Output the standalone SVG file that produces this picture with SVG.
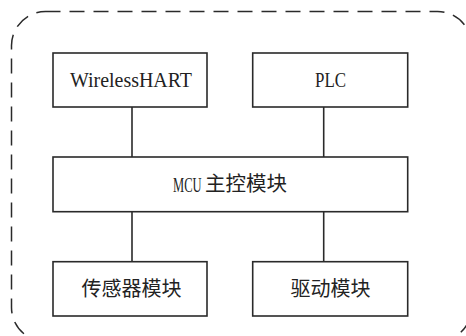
<svg xmlns="http://www.w3.org/2000/svg" width="466" height="336" viewBox="0 0 466 336">
<style>
.box{fill:#fff;stroke:#2a2a2a;stroke-width:1.6}
.ln{stroke:#2a2a2a;stroke-width:1.6;fill:none}
.frame{fill:none;stroke:#2a2a2a;stroke-width:1.5;stroke-dasharray:15 9}
.lat{font-family:"Liberation Serif","DejaVu Serif",serif;font-size:22px;fill:#222}
.cjk{font-family:"Noto Sans CJK SC",sans-serif;font-size:20px;fill:#222}
</style>
<rect fill="#fff" width="466" height="336"/>
<rect class="frame" x="11.5" y="11.5" width="460" height="330" rx="34" ry="34"/>
<g id="connectors">
<line class="ln" x1="132" y1="107" x2="132" y2="157"/>
<line class="ln" x1="323.7" y1="107" x2="323.7" y2="157"/>
<line class="ln" x1="132" y1="211.7" x2="132" y2="261.7"/>
<line class="ln" x1="323.7" y1="211.7" x2="323.7" y2="261.7"/>
</g>
<g id="wirelesshart">
<rect class="box" x="53" y="53" width="154" height="54"/>
<text class="lat" x="70" y="87" textLength="122" lengthAdjust="spacingAndGlyphs">WirelessHART</text>
</g>
<g id="plc">
<rect class="box" x="252.7" y="53" width="155" height="54"/>
<text class="lat" x="315" y="87" textLength="31" lengthAdjust="spacingAndGlyphs">PLC</text>
</g>
<g id="mcu">
<rect class="box" x="53" y="157" width="354.7" height="54.7"/>
<text class="lat" x="0" y="0" transform="translate(173,192) scale(0.57,1)">MCU</text>
<text class="cjk" x="205" y="191" textLength="82" lengthAdjust="spacingAndGlyphs">主控模块</text>
</g>
<g id="sensor">
<rect class="box" x="53" y="261.7" width="154" height="54.3"/>
<text class="cjk" x="131.5" y="296" text-anchor="middle">传感器模块</text>
</g>
<g id="drive">
<rect class="box" x="252.7" y="261.7" width="155" height="54.3"/>
<text class="cjk" x="330.5" y="296" text-anchor="middle">驱动模块</text>
</g>
</svg>
